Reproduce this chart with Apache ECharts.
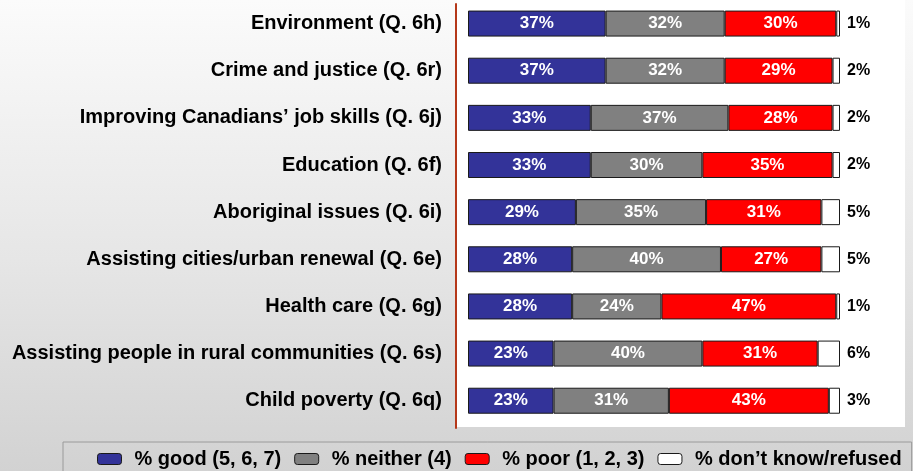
<!DOCTYPE html>
<html>
<head>
<meta charset="utf-8">
<script src="https://cdn.jsdelivr.net/npm/echarts@6/dist/echarts.min.js"></script>
<style>
html,body{margin:0;padding:0;}
body{background:linear-gradient(to bottom,#fbfbfb 0%,#e6e6e6 55%,#d2d2d2 100%);}
#c{width:913px;height:471px;}
</style>
</head>
<body>
<div id="c"></div>
<script>
const categories = [
  "Environment (Q. 6h)",
  "Crime and justice (Q. 6r)",
  "Improving Canadians\u2019 job skills (Q. 6j)",
  "Education (Q. 6f)",
  "Aboriginal issues (Q. 6i)",
  "Assisting cities/urban renewal (Q. 6e)",
  "Health care (Q. 6g)",
  "Assisting people in rural communities (Q. 6s)",
  "Child poverty (Q. 6q)"
];
const seriesNames = ["% good (5, 6, 7)", "% neither (4)", "% poor (1, 2, 3)", "% don\u2019t know/refused"];
const good    = [37, 37, 33, 33, 29, 28, 28, 23, 23];
const neither = [32, 32, 37, 30, 35, 40, 24, 40, 31];
const poor    = [30, 29, 28, 35, 31, 27, 47, 31, 43];
const dontKnow= [1, 2, 2, 2, 5, 5, 1, 6, 3];
const colors = ["#333399", "#808080", "#ff0000", "#ffffff"];

const FONT = "'Liberation Sans', Arial, sans-serif";
const chart = echarts.init(document.getElementById('c'), null, {renderer: 'canvas'});

function bar(name, data, color, inside) {
  return {
    name: name,
    type: 'bar',
    stack: 'total',
    data: data,
    barWidth: 26,
    xAxisIndex: 0, yAxisIndex: 0,
    itemStyle: {color: color, borderColor: '#1a1a1a', borderWidth: 1},
    label: inside ? {
      show: true, position: 'inside', color: '#ffffff', fontFamily: FONT,
      fontWeight: 'bold', fontSize: 17, formatter: '{c}%'
    } : {
      show: true, position: 'right', distance: 7, color: '#000000', fontFamily: FONT,
      fontWeight: 'bold', fontSize: 16, formatter: '{c}%'
    },
    emphasis: {disabled: true}
  };
}

chart.setOption({
  backgroundColor: 'transparent',
  animation: false,
  graphic: [{
    type: 'rect', z: -10, silent: true,
    shape: {x: 457, y: 0, width: 448, height: 427},
    style: {fill: '#ffffff'}
  }],
  grid: [
    {left: 468, width: 372, top: -1.7, height: 426},
    {left: 456, width: 1, top: 4, height: 424}
  ],
  xAxis: [
    {type: 'value', min: 0, max: 100, show: false, gridIndex: 0},
    {type: 'value', min: 0, max: 1, show: false, gridIndex: 1}
  ],
  yAxis: [
    {
      type: 'category', data: categories, inverse: true, gridIndex: 0,
      axisLine: {show: false}, axisTick: {show: false},
      axisLabel: {margin: 26, color: '#000', fontFamily: FONT, fontWeight: 'bold', fontSize: 20}
    },
    {
      type: 'value', gridIndex: 1, min: 0, max: 1,
      axisLine: {show: true, lineStyle: {color: '#b5381a', width: 2}},
      axisTick: {show: false}, axisLabel: {show: false}, splitLine: {show: false}
    }
  ],
  legend: {
    data: seriesNames,
    left: 63, top: 442,
    padding: [7, 10, 30, 34],
    itemWidth: 24, itemHeight: 11, itemGap: 13,
    borderColor: '#9a9a9a', borderWidth: 1,
    backgroundColor: 'transparent',
    selectedMode: false,
    textStyle: {color: '#000', fontFamily: FONT, fontWeight: 'bold', fontSize: 20, padding: [0, 0, 0, 8]},
    itemStyle: {borderColor: '#1a1a1a', borderWidth: 1}
  },
  series: [
    bar(seriesNames[0], good, colors[0], true),
    bar(seriesNames[1], neither, colors[1], true),
    bar(seriesNames[2], poor, colors[2], true),
    bar(seriesNames[3], dontKnow, colors[3], false)
  ]
});
</script>
</body>
</html>
